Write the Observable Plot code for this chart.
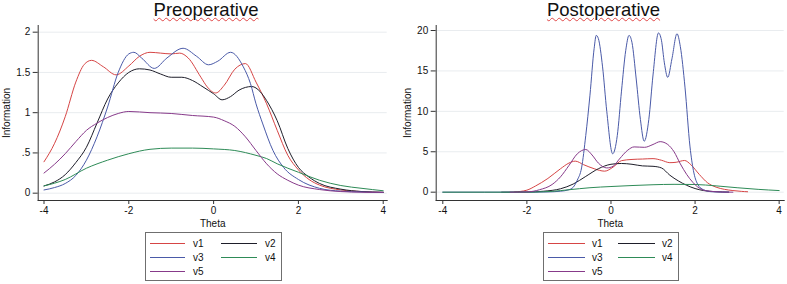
<!DOCTYPE html>
<html>
<head>
<meta charset="utf-8">
<script src="https://cdn.jsdelivr.net/npm/d3@7"></script>
<script src="https://cdn.jsdelivr.net/npm/@observablehq/plot@0.6"></script>
<style>
  html, body { margin: 0; padding: 0; background: #fff; }
  #root { position: relative; width: 787px; height: 284px; background: #fff; overflow: hidden;
          font-family: "Liberation Sans", Arial, sans-serif; color: #111; }
  .title { position: absolute; top: 0; font-size: 18.5px; line-height: 21px; white-space: nowrap;
           transform: translateX(-50%);
           text-decoration: underline wavy #e04848; text-decoration-thickness: 1px; text-underline-offset: 1px; }
  .panel { position: absolute; top: 0; }
  .legend { position: absolute; top: 232px; height: 49px; border: 1px solid #6f6f6f; box-sizing: border-box; background: #fff; }
  .legend svg { position: absolute; left: 0; top: 0; overflow: visible; }
</style>
</head>
<body>
<div id="root"></div>
<script>
// ---------------- data ----------------
const series = ["v1", "v2", "v3", "v4", "v5"];
const colors = ["#d64545", "#1e1e2a", "#4a5aa8", "#2e8b57", "#873a8a"];
const panelTitles = ["Preoperative", "Postoperative"];
const xTicks = [-4, -2, 0, 2, 4];
const yTicksPre = [0, 0.5, 1, 1.5, 2];
const yTickLabelsPre = ["0", ".5", "1", "1.5", "2"];
const yTicksPost = [0, 5, 10, 15, 20];
const yTickLabelsPost = ["0", "5", "10", "15", "20"];
const xLabel = "Theta";
const yLabel = "Information";

// Preoperative information curves: [theta, information]
const pre_v1 = [[-4,0.39],[-3.75,0.62],[-3.5,0.95],[-3.25,1.38],[-3.05,1.6],[-2.88,1.65],[-2.6,1.57],[-2.3,1.47],[-2,1.58],[-1.75,1.7],[-1.5,1.75],[-1.25,1.74],[-1,1.73],[-0.8,1.74],[-0.6,1.68],[-0.3,1.44],[-0.15,1.32],[0.05,1.245],[0.25,1.34],[0.5,1.54],[0.75,1.61],[1,1.38],[1.25,1.11],[1.5,0.78],[1.75,0.47],[2,0.29],[2.25,0.17],[2.5,0.1],[3,0.04],[3.5,0.02],[4,0.01]];
const pre_v2 = [[-4,0.09],[-3.75,0.14],[-3.5,0.23],[-3.25,0.38],[-3,0.57],[-2.75,0.87],[-2.5,1.17],[-2.25,1.37],[-2,1.5],[-1.75,1.545],[-1.5,1.53],[-1.25,1.48],[-1,1.44],[-0.75,1.44],[-0.5,1.4],[-0.25,1.32],[0,1.235],[0.2,1.16],[0.4,1.2],[0.6,1.28],[0.9,1.325],[1.1,1.26],[1.25,1.15],[1.5,0.9],[1.75,0.555],[2,0.32],[2.25,0.2],[2.5,0.12],[3,0.05],[3.5,0.02],[4,0.01]];
const pre_v3 = [[-4,0.04],[-3.75,0.07],[-3.5,0.12],[-3.25,0.22],[-3,0.41],[-2.75,0.7],[-2.5,1.07],[-2.25,1.5],[-2,1.73],[-1.88,1.75],[-1.7,1.68],[-1.4,1.55],[-1.1,1.68],[-0.72,1.8],[-0.4,1.7],[-0.12,1.595],[0.1,1.64],[0.4,1.75],[0.7,1.57],[0.87,1.36],[1,1.11],[1.16,0.86],[1.4,0.53],[1.65,0.32],[2,0.17],[2.5,0.06],[3,0.025],[3.5,0.015],[4,0.01]];
const pre_v4 = [[-4,0.09],[-3.5,0.17],[-3,0.31],[-2.5,0.41],[-2,0.49],[-1.5,0.545],[-1,0.56],[-0.5,0.56],[0,0.55],[0.5,0.53],[1,0.47],[1.25,0.43],[1.5,0.365],[2,0.26],[2.5,0.16],[3,0.095],[3.5,0.06],[4,0.03]];
const pre_v5 = [[-4,0.25],[-3.75,0.36],[-3.5,0.49],[-3.25,0.64],[-3,0.78],[-2.75,0.87],[-2.5,0.94],[-2.25,0.99],[-2,1.015],[-1.5,1],[-1,0.99],[-0.5,0.965],[0,0.945],[0.25,0.9],[0.5,0.83],[0.75,0.7],[1,0.53],[1.25,0.365],[1.5,0.24],[1.75,0.16],[2,0.1],[2.5,0.045],[3,0.02],[3.5,0.012],[4,0.01]];

// Postoperative information curves: [theta, information]
const post_v1 = [[-2.3,0.02],[-2,0.25],[-1.8,0.75],[-1.5,1.7],[-1.2,2.9],[-1,3.6],[-0.85,3.84],[-0.65,3.4],[-0.4,2.9],[-0.15,2.6],[0.05,3.1],[0.25,3.9],[0.5,4.05],[0.75,4.1],[1,4.15],[1.2,3.95],[1.4,3.65],[1.55,3.7],[1.75,3.92],[1.9,3.4],[2.1,2.2],[2.3,1.15],[2.5,0.62],[2.7,0.35],[2.9,0.2],[3.1,0.1],[3.25,0.05]];
const post_v2 = [[-2.6,0],[-2,0.02],[-1.6,0.12],[-1.2,0.42],[-0.9,1],[-0.6,1.95],[-0.3,2.9],[0,3.45],[0.25,3.55],[0.5,3.45],[0.75,3.25],[1,3.2],[1.2,3],[1.4,2.1],[1.6,1.4],[1.8,0.85],[2,0.45],[2.2,0.2],[2.5,0.06],[2.8,0.01]];
const post_v3 = [[-4,0],[-2,0],[-1.5,0.03],[-1.2,0.12],[-1,0.3],[-0.9,0.6],[-0.8,1.5],[-0.7,3],[-0.6,7],[-0.5,12],[-0.4,17.8],[-0.35,19.4],[-0.3,19],[-0.2,15.5],[-0.1,10],[0.04,4.75],[0.15,7],[0.25,12.5],[0.35,17.5],[0.43,19.4],[0.5,18.5],[0.6,14],[0.7,9],[0.79,6.3],[0.9,9],[1,14.5],[1.13,19.7],[1.2,18.8],[1.27,16],[1.35,14.2],[1.45,16.5],[1.57,19.6],[1.65,18],[1.76,13],[1.88,5.6],[1.96,2.7],[2.06,1],[2.2,0.3],[2.4,0.05],[2.8,0]];
const post_v4 = [[-4,0],[-2,0],[-1.8,0.02],[-1.4,0.1],[-1,0.3],[-0.5,0.55],[0,0.7],[0.5,0.82],[1,0.92],[1.5,0.97],[2,0.95],[2.5,0.78],[3,0.55],[3.5,0.35],[4,0.2]];
const post_v5 = [[-2.4,0],[-2,0.03],[-1.7,0.3],[-1.4,0.95],[-1.2,1.9],[-1,3.3],[-0.8,4.75],[-0.6,5.28],[-0.45,4.6],[-0.3,3.6],[-0.1,3],[0.05,3.2],[0.2,4.1],[0.4,5.2],[0.55,5.6],[0.8,5.55],[1,5.9],[1.17,6.25],[1.35,5.9],[1.5,5],[1.65,3.5],[1.8,2.2],[1.95,1.2],[2.1,0.5],[2.3,0.15],[2.6,0.03],[2.9,0]];

// ---------------- build ----------------
function table(arrs) {
  return arrs.flatMap((arr, i) => arr.map(([theta, value]) => ({series: series[i], theta, value})));
}
const preData = table([pre_v1, pre_v2, pre_v3, pre_v4, pre_v5]);
const postData = table([post_v1, post_v2, post_v3, post_v4, post_v5]);

const fmtX = d => d < 0 ? "-" + Math.abs(d) : String(d);

function panel({data, width, marginLeft, marginRight, xDomain, yDomain, yTicks, yTickLabels, yLabelOffset}) {
  return Plot.plot({
    width, height: 228,
    marginLeft, marginRight, marginTop: 25, marginBottom: 28,
    style: {fontFamily: "'Liberation Sans', Arial, sans-serif", fontSize: "10px", color: "#111", background: "transparent", overflow: "visible"},
    x: {domain: xDomain},
    y: {domain: yDomain},
    color: {domain: series, range: colors},
    marks: [
      Plot.gridY(yTicks, {stroke: "#e9ecef", strokeOpacity: 1}),
      Plot.frame({anchor: "left", stroke: "#333", strokeOpacity: 1}),
      Plot.frame({anchor: "bottom", stroke: "#333", strokeOpacity: 1}),
      Plot.axisX(xTicks, {tickSize: 4, tickPadding: 2, tickFormat: fmtX, label: xLabel,
        labelAnchor: "center", labelArrow: "none", labelOffset: 26, stroke: "#333"}),
      Plot.axisY(yTicks, {tickSize: 5, tickPadding: 3, tickFormat: (d, i) => yTickLabels[yTicks.indexOf(d)],
        label: yLabel, labelAnchor: "center", labelArrow: "none", labelOffset: yLabelOffset, stroke: "#333"}),
      Plot.line(data, {x: "theta", y: "value", stroke: "series", z: "series", curve: "monotone-x", strokeWidth: 1})
    ]
  });
}

const root = document.getElementById("root");

const left = panel({data: preData, width: 393, marginLeft: 37.7, marginRight: 6.3,
  xDomain: [-4.137, 4.094], yDomain: [-0.091, 2.083], yTicks: yTicksPre, yTickLabels: yTickLabelsPre, yLabelOffset: 35});
left.classList.add("panel");
left.style.left = "0px";
root.appendChild(left);

const right = panel({data: postData, width: 394, marginLeft: 42.7, marginRight: 3.3,
  xDomain: [-4.157, 4.12], yDomain: [-1.03, 20.62], yTicks: yTicksPost, yTickLabels: yTickLabelsPost, yLabelOffset: 32.5});
right.classList.add("panel");
right.style.left = "393px";
root.appendChild(right);

// titles
[[206, panelTitles[0]], [603.5, panelTitles[1]]].forEach(([cx, t]) => {
  const d = document.createElement("div");
  d.className = "title";
  d.style.left = cx + "px";
  d.style.top = "-1px";
  d.textContent = t;
  root.appendChild(d);
});

// legends
function legend(leftPx, widthPx, cols) {
  const box = d3.select(root).append("div").attr("class", "legend")
    .style("left", leftPx + "px").style("width", widthPx + "px");
  const svg = box.append("svg").attr("width", widthPx).attr("height", 49);
  series.forEach((s, i) => {
    const col = i % 2, row = Math.floor(i / 2);
    const c = cols[col];
    const y = 10.5 + row * 14;
    svg.append("line").attr("x1", c.x1).attr("x2", c.x2).attr("y1", y).attr("y2", y)
      .attr("stroke", colors[i]).attr("stroke-width", 1);
    svg.append("text").attr("x", c.tx).attr("y", y).attr("dy", "0.35em")
      .attr("font-size", "10px").attr("font-family", "'Liberation Sans', Arial, sans-serif")
      .attr("fill", "#111").text(s);
  });
}
legend(145, 137, [{x1: 4, x2: 39, tx: 47}, {x1: 75, x2: 111, tx: 119}]);
legend(543, 136, [{x1: 4, x2: 41, tx: 48}, {x1: 74, x2: 111, tx: 118}]);
</script>
</body>
</html>
